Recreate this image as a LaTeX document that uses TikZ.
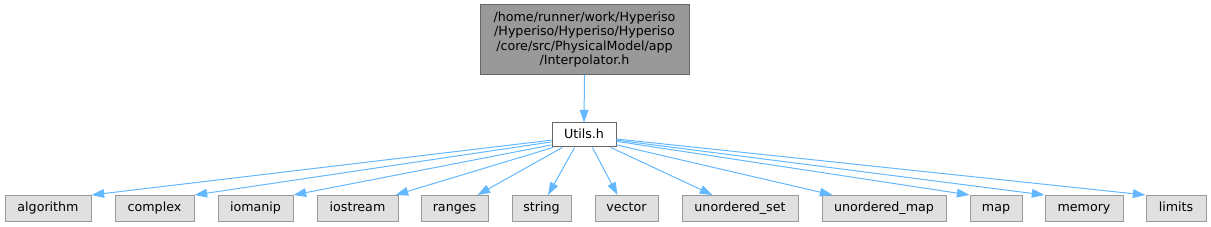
\documentclass[tikz,border=0pt]{standalone}
\usepackage{fontspec}
\setmainfont{DejaVu Sans}
\usetikzlibrary{arrows.meta,calc}
\definecolor{edgecol}{HTML}{63B8FF}
\definecolor{extfill}{HTML}{E0E0E0}
\definecolor{extdraw}{HTML}{999999}
\definecolor{topfill}{HTML}{999999}
\definecolor{topdraw}{HTML}{666666}
\tikzset{
  px/.style={x=0.75pt,y=-0.75pt},
  basebox/.style={rectangle,inner sep=0pt,line width=0.75pt,font=\fontsize{9.5}{10.6}\selectfont,align=center},
  onebox/.style={basebox,text height=7pt,text depth=2pt},
  extbox/.style={onebox,fill=extfill,draw=extdraw,minimum height=19.5pt},
  midbox/.style={onebox,fill=white,draw=topdraw,minimum height=18pt},
  topbox/.style={basebox,fill=topfill,draw=topdraw},
  dep/.style={draw=edgecol,line width=0.75pt,-{Triangle[length=9.5pt,width=6.5pt]}}
}
\begin{document}
\begin{tikzpicture}[px]
\useasboundingbox (0,0) rectangle (1211,227);
\node[topbox,minimum width=156.75pt,minimum height=52.5pt] (top) at (584.5,39.5)
  {/home/runner/work/Hyperiso\\/Hyperiso/Hyperiso/Hyperiso\\/core/src/PhysicalModel/app\\/Interpolator.h};
\node[midbox,minimum width=48pt] (utils) at (584,135) {Utils.h};
\node[extbox,minimum width=64.5pt] (algorithm) at (48,208.5) {algorithm};
\node[extbox,minimum width=59.25pt] (complex) at (154.5,208.5) {complex};
\node[extbox,minimum width=56.25pt] (iomanip) at (255.5,208.5) {iomanip};
\node[extbox,minimum width=60.75pt] (iostream) at (357.5,208.5) {iostream};
\node[extbox,minimum width=50.25pt] (ranges) at (454.5,208.5) {ranges};
\node[extbox,minimum width=44.25pt] (string) at (541.5,208.5) {string};
\node[extbox,minimum width=47.25pt] (vector) at (626.5,208.5) {vector};
\node[extbox,minimum width=87pt] (uset) at (740,208.5) {unordered\_set};
\node[extbox,minimum width=93pt] (umap) at (884,208.5) {unordered\_map};
\node[extbox,minimum width=39pt] (map) at (996,208.5) {map};
\node[extbox,minimum width=58.5pt] (memory) at (1084,208.5) {memory};
\node[extbox,minimum width=45pt] (limits) at (1176,208.5) {limits};
\draw[dep] (top.south) -- (utils.north);
\draw[dep] (utils.189) -- (algorithm.north east);
\draw[dep] (utils.192) -- (complex.north east);
\draw[dep] (utils.197) -- (iomanip.north east);
\draw[dep] (utils.202) -- ($(iostream.north east)+(-3,0)$);
\draw[dep] (utils.210) -- ($(ranges.north east)+(-11,0)$);
\draw[dep] (utils.233) -- ($(string.north)+(6.5,0)$);
\draw[dep] (utils.304) -- ($(vector.north west)+(23,0)$);
\draw[dep] (utils.335) -- ($(uset.north west)+(31,0)$);
\draw[dep] (utils.343) -- ($(umap.north west)+(11,0)$);
\draw[dep] (utils.349) -- (map.north west);
\draw[dep] (utils.351) -- (memory.north west);
\draw[dep] (utils.353) -- (limits.north west);
\end{tikzpicture}
\end{document}
